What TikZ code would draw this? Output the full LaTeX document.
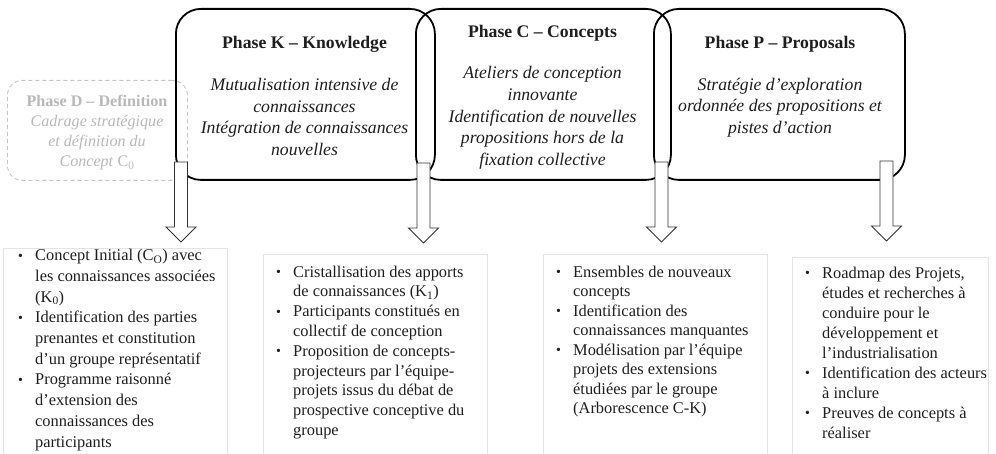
\documentclass[tikz,border=0pt]{standalone}
\usepackage{fontspec}
\setmainfont{Liberation Serif}
\definecolor{dgray}{HTML}{B8B8B8}
\definecolor{dline}{HTML}{C4C4C4}
\definecolor{outline}{HTML}{E4E4E4}
\definecolor{txt}{HTML}{1E1E1E}
\newcommand{\itembul}{\makebox[17.5pt][l]{\hspace{0.5pt}\raisebox{0.5pt}{\scalebox{0.85}{•}}}}
\newcommand{\itemind}{\hspace*{17.5pt}}
\begin{document}
\begin{tikzpicture}[x=1pt,y=-1pt,
  phasebox/.style={draw=black, line width=1.8pt, rounded corners=25pt, minimum height=171pt, anchor=north west, inner sep=0pt},
  defbox/.style={draw=dline, line width=0.9pt, dash pattern=on 4pt off 3pt, rounded corners=15pt, anchor=north west, inner sep=0pt},
  outbox/.style={draw=outline, line width=0.8pt, anchor=north west, inner sep=0pt},
  hdr/.style={font=\fontsize{17.7pt}{21.7pt}\selectfont\bfseries, anchor=base, inner sep=0pt, text=txt},
  body/.style={font=\fontsize{17.7pt}{21.7pt}\selectfont\itshape, align=center, anchor=base, inner sep=0pt, text=txt},
  dhdr/.style={font=\fontsize{16.1pt}{20pt}\selectfont\bfseries, anchor=base, inner sep=0pt, text=dgray},
  dbody/.style={font=\fontsize{16.1pt}{20pt}\selectfont\itshape, align=center, anchor=base, inner sep=0pt, text=dgray},
  list/.style={font=\fontsize{16.4pt}{20.2pt}\selectfont, align=left, anchor=base west, inner sep=0pt, text=txt},
  blockarrow/.style={draw=black!80, line width=0.9pt, fill=white, line join=miter}
]
\useasboundingbox (0,0) rectangle (996,454);

% phase D (background)
\node[defbox, minimum width=180pt, minimum height=100pt] (boxD) at (7,80) {};
\node[dhdr] (hD) at (97,107) {Phase D – Definition};
\node[dbody] (tD) at (97,167) {Cadrage stratégique\\et définition du\\Concept \textup{C\textsubscript{0}}};

% phase boxes
\node[phasebox, minimum width=259pt] (boxK) at (175,8) {};
\node[phasebox, minimum width=255pt] (boxC) at (415,8) {};
\node[phasebox, minimum width=251pt] (boxP) at (653,8) {};

\node[hdr] (hK) at (304.5,48.5) {Phase K – Knowledge};
\node[body] (tK) at (304.5,155.5) {Mutualisation intensive de\\connaissances\\Intégration de connaissances\\nouvelles};

\node[hdr] (hC) at (542.5,37.5) {Phase C – Concepts};
\node[body] (tC) at (542.5,165.5) {Ateliers de conception\\innovante\\Identification de nouvelles\\propositions hors de la\\fixation collective};

\node[hdr] (hP) at (780,48.5) {Phase P – Proposals};
\node[body] (tP) at (780,133.5) {Stratégie d’exploration\\ordonnée des propositions et\\pistes d’action};

% output boxes
\node[outbox, minimum width=224pt, minimum height=215pt] (out1) at (3,248) {};
\node[outbox, minimum width=224pt, minimum height=210pt] (out2) at (263,254) {};
\node[outbox, minimum width=224pt, minimum height=210pt] (out3) at (543,254) {};
\node[outbox, minimum width=196pt, minimum height=207pt] (out4) at (792,257) {};

\node[list, font=\fontsize{16.4pt}{20.7pt}\selectfont] (l1) at (17.5,447) {%
\itembul Concept Initial (C\textsubscript{O}) avec\\
\itemind les connaissances associées\\
\itemind (K\textsubscript{0})\\
\itembul Identification des parties\\
\itemind prenantes et constitution\\
\itemind d’un groupe représentatif\\
\itembul Programme raisonné\\
\itemind d’extension des\\
\itemind connaissances des\\
\itemind participants};

\node[list, font=\fontsize{16.4pt}{19.8pt}\selectfont] (l2) at (275.5,435.5) {%
\itembul Cristallisation des apports\\
\itemind de connaissances (K\textsubscript{1})\\
\itembul Participants constitués en\\
\itemind collectif de conception\\
\itembul Proposition de concepts-\\
\itemind projecteurs par l’équipe-\\
\itemind projets issus du débat de\\
\itemind prospective conceptive du\\
\itemind groupe};

\node[list, font=\fontsize{16.4pt}{19.5pt}\selectfont] (l3) at (555.5,413.5) {%
\itembul Ensembles de nouveaux\\
\itemind concepts\\
\itembul Identification des\\
\itemind connaissances manquantes\\
\itembul Modélisation par l’équipe\\
\itemind projets des extensions\\
\itemind étudiées par le groupe\\
\itemind (Arborescence C-K)};

\node[list, font=\fontsize{16.4pt}{20pt}\selectfont] (l4) at (804.5,438) {%
\itembul Roadmap des Projets,\\
\itemind études et recherches à\\
\itemind conduire pour le\\
\itemind développement et\\
\itemind l’industrialisation\\
\itembul Identification des acteurs\\
\itemind à inclure\\
\itembul Preuves de concepts à\\
\itemind réaliser};

% block arrows
\coordinate (a1) at (181,162);
\coordinate (a2) at (423.5,163);
\coordinate (a3) at (661.5,162);
\coordinate (a4) at (886.5,161);
\foreach \c in {a1,a2,a3,a4}{
  \draw[blockarrow] (\c) ++(-6.5,0) -- ++(0,65) -- ++(-8.5,0) -- ++(15,15) -- ++(15,-15) -- ++(-8.5,0) -- ++(0,-65) -- cycle;
}
\end{tikzpicture}
\end{document}
